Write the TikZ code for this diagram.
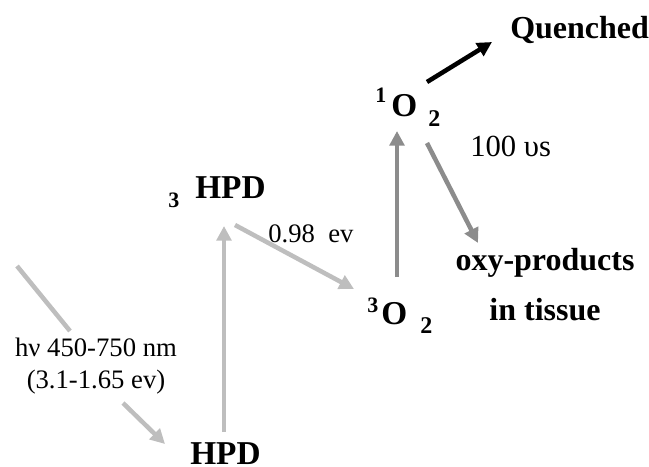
\documentclass[tikz,border=0pt]{standalone}
\usepackage{fontspec}
\setmainfont{Liberation Serif}
\usetikzlibrary{arrows.meta}
\definecolor{lightg}{RGB}{190,190,190}
\definecolor{darkg}{RGB}{140,140,140}
\tikzset{
  lbl/.style={inner sep=0pt, anchor=base west, font=\fontsize{20}{24}\selectfont},
  big/.style={inner sep=0pt, anchor=base west, font=\fontsize{25}{30}\selectfont\bfseries},
  idx/.style={inner sep=0pt, anchor=base west, font=\fontsize{16.5}{20}\selectfont\bfseries},
  conn/.style={line width=3.4pt, -{Triangle[length=11pt,width=11pt]}},
  lightarrow/.style={conn, draw=lightg},
  darkarrow/.style={conn, draw=darkg},
  blackarrow/.style={conn, draw=black}
}
\begin{document}
\begin{tikzpicture}[x=0.75pt,y=-0.75pt]
\useasboundingbox (0,0) rectangle (649,467);
% texts
\node[big, font=\fontsize{24}{29}\selectfont\bfseries] (quenched) at (510,39) {Quenched};
\node[idx] (s1) at (375,103) {1};
\node[big] (o1) at (391,116) {O};
\node[idx, font=\fontsize{18}{22}\selectfont\bfseries] (s2a) at (428,126) {2};
\node[lbl, font=\fontsize{23}{28}\selectfont] (time) at (470,156) {100 υs};
\node[idx] (s3) at (367,312) {3};
\node[big] (o3) at (381,324) {O};
\node[idx, font=\fontsize{18}{22}\selectfont\bfseries] (s2b) at (420,333) {2};
\node[inner sep=0pt, align=center, anchor=base, font=\fontsize{24}{37}\selectfont\bfseries] (oxy) at (545,320) {oxy-products\\in tissue};
\node[idx] (t3) at (168,207) {3};
\node[big] (thpd) at (195,198) {HPD};
\node[lbl] (ev) at (268,242) {0.98~~ev};
\node[inner sep=0pt, align=center, anchor=base, font=\fontsize{20}{24}\selectfont] (hv) at (96,388) {hν 450-750 nm\\(3.1-1.65 ev)};
\node[big] (hpd) at (190,464) {HPD};
% connector end points
\coordinate (qa) at (427,82);
\coordinate (qb) at (492,42);
\coordinate (ua) at (397,277);
\coordinate (ub) at (397,131);
\coordinate (da) at (427,143);
\coordinate (db) at (478,243);
\coordinate (ea) at (235,225);
\coordinate (eb) at (354,289);
\coordinate (va) at (224,432);
\coordinate (vb) at (224,226);
\coordinate (la) at (17,266);
\coordinate (lb) at (70,331);
\coordinate (ma) at (123,403);
\coordinate (mb) at (165,444);
% connectors
\draw[blackarrow] (qa) -- (qb);
\draw[darkarrow] (ua) -- (ub);
\draw[darkarrow] (da) -- (db);
\draw[lightarrow] (ea) -- (eb);
\draw[lightarrow] (va) -- (vb);
\draw[line width=3.4pt, draw=lightg] (la) -- (lb);
\draw[lightarrow] (ma) -- (mb);
\end{tikzpicture}
\end{document}
